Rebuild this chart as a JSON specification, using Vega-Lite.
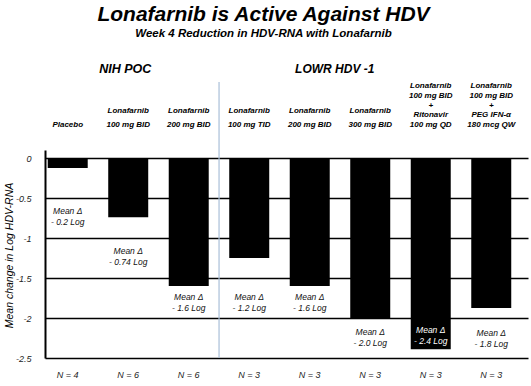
{
  "$schema": "https://vega.github.io/schema/vega-lite/v6.json",
  "width": 483,
  "height": 208,
  "autosize": {"type": "none"},
  "padding": {"left": 45, "top": 150, "right": 3, "bottom": 28},
  "config": {"font": "Liberation Sans", "view": {"stroke": null}},
  "title": {
    "text": "Lonafarnib is Active Against HDV",
    "subtitle": "Week 4 Reduction in HDV-RNA with Lonafarnib",
    "anchor": "middle",
    "frame": "group",
    "dx": -23,
    "offset": 24,
    "fontSize": 21,
    "fontWeight": "bold",
    "fontStyle": "italic",
    "color": "black",
    "subtitleFontSize": 11.5,
    "subtitleFontWeight": "bold",
    "subtitleFontStyle": "italic",
    "subtitleColor": "black",
    "subtitlePadding": 3
  },
  "datasets": {
    "arms": [
      {"arm": "NIH POC|Placebo", "label": "Placebo", "lines": 1, "value": -0.125, "note": "Mean Δ\n- 0.2 Log", "note_at": -0.61, "sample": "N = 4"},
      {"arm": "NIH POC|Lonafarnib|100 mg BID", "label": "Lonafarnib\n100 mg BID", "lines": 2, "value": -0.74, "note": "Mean Δ\n- 0.74 Log", "note_at": -1.11, "sample": "N = 6"},
      {"arm": "NIH POC|Lonafarnib|200 mg BID", "label": "Lonafarnib\n200 mg BID", "lines": 2, "value": -1.6, "note": "Mean Δ\n- 1.6 Log", "note_at": -1.69, "sample": "N = 6"},
      {"arm": "LOWR HDV-1|Lonafarnib|100 mg TID", "label": "Lonafarnib\n100 mg TID", "lines": 2, "value": -1.25, "note": "Mean Δ\n- 1.2 Log", "note_at": -1.69, "sample": "N = 3"},
      {"arm": "LOWR HDV-1|Lonafarnib|200 mg BID", "label": "Lonafarnib\n200 mg BID", "lines": 2, "value": -1.6, "note": "Mean Δ\n- 1.6 Log", "note_at": -1.69, "sample": "N = 3"},
      {"arm": "LOWR HDV-1|Lonafarnib|300 mg BID", "label": "Lonafarnib\n300 mg BID", "lines": 2, "value": -2.01, "note": "Mean Δ\n- 2.0 Log", "note_at": -2.13, "sample": "N = 3"},
      {"arm": "LOWR HDV-1|Lonafarnib|100 mg BID|+|Ritonavir|100 mg QD", "label": "Lonafarnib\n100 mg BID\n+\nRitonavir\n100 mg QD", "lines": 5, "value": -2.39, "note": "Mean Δ\n- 2.4 Log", "note_at": -2.1, "sample": "N = 3"},
      {"arm": "LOWR HDV-1|Lonafarnib|100 mg BID|+|PEG IFN-α|180 mcg QW", "label": "Lonafarnib\n100 mg BID\n+\nPEG IFN-α\n180 mcg QW", "lines": 5, "value": -1.875, "note": "Mean Δ\n- 1.8 Log", "note_at": -2.14, "sample": "N = 3"}
    ],
    "studies": [
      {"study": "NIH POC", "label_arm": "NIH POC|Lonafarnib|100 mg BID", "first_arm": "NIH POC|Placebo"},
      {"study": "LOWR HDV -1", "label_arm": "LOWR HDV-1|Lonafarnib|200 mg BID", "first_arm": "LOWR HDV-1|Lonafarnib|100 mg TID"}
    ]
  },
  "layer": [
    {
      "data": {"name": "arms"},
      "mark": {"type": "bar", "color": "black"},
      "encoding": {
        "x": {
          "field": "arm",
          "type": "nominal",
          "scale": {
            "domain": [
              "NIH POC|Placebo",
              "NIH POC|Lonafarnib|100 mg BID",
              "NIH POC|Lonafarnib|200 mg BID",
              "LOWR HDV-1|Lonafarnib|100 mg TID",
              "LOWR HDV-1|Lonafarnib|200 mg BID",
              "LOWR HDV-1|Lonafarnib|300 mg BID",
              "LOWR HDV-1|Lonafarnib|100 mg BID|+|Ritonavir|100 mg QD",
              "LOWR HDV-1|Lonafarnib|100 mg BID|+|PEG IFN-α|180 mcg QW"
            ],
            "paddingInner": 0.339,
            "paddingOuter": 0.161,
            "align": 0.14
          },
          "axis": null
        },
        "y": {
          "field": "value",
          "type": "quantitative",
          "scale": {"domain": [-2.5, 0.1], "nice": false, "zero": false},
          "axis": {
            "title": "Mean change in Log HDV-RNA",
            "titleFontSize": 10.5,
            "titleFontWeight": "normal",
            "titleFontStyle": "italic",
            "titleColor": "black",
            "titleX": -36,
            "titleY": 105,
            "titleAngle": 270,
            "titleAlign": "center",
            "titleBaseline": "middle",
            "values": [0, -0.5, -1, -1.5, -2, -2.5],
            "labelExpr": "toString(datum.value)",
            "labelFontSize": 9,
            "labelFontStyle": "italic",
            "labelColor": "#222",
            "labelPadding": 14,
            "ticks": false,
            "domainColor": "black",
            "domainWidth": 2,
            "grid": true,
            "gridColor": "black",
            "gridWidth": 1.6,
            "gridOpacity": 1
          }
        }
      }
    },
    {
      "data": {"name": "arms"},
      "transform": [{"filter": "datum.lines == 1"}],
      "mark": {"type": "text", "fontSize": 8, "fontWeight": "bold", "fontStyle": "italic", "baseline": "alphabetic", "align": "center", "color": "black", "lineBreak": "\n"},
      "encoding": {
        "x": {"field": "arm", "type": "nominal"},
        "y": {"datum": 0.3875},
        "text": {"field": "label"}
      }
    },
    {
      "data": {"name": "arms"},
      "transform": [{"filter": "datum.lines == 2"}],
      "mark": {"type": "text", "fontSize": 8, "fontWeight": "bold", "fontStyle": "italic", "baseline": "alphabetic", "align": "center", "color": "black", "lineBreak": "\n", "lineHeight": 14},
      "encoding": {
        "x": {"field": "arm", "type": "nominal"},
        "y": {"datum": 0.5625},
        "text": {"field": "label"}
      }
    },
    {
      "data": {"name": "arms"},
      "transform": [{"filter": "datum.lines == 5"}],
      "mark": {"type": "text", "fontSize": 8, "fontWeight": "bold", "fontStyle": "italic", "baseline": "alphabetic", "align": "center", "color": "black", "lineBreak": "\n", "lineHeight": 9.75},
      "encoding": {
        "x": {"field": "arm", "type": "nominal"},
        "y": {"datum": 0.875},
        "text": {"field": "label"}
      }
    },
    {
      "data": {"name": "studies"},
      "transform": [{"filter": "datum.study === 'LOWR HDV -1'"}],
      "mark": {"type": "rule", "color": "#a9bfd8", "strokeWidth": 1.2},
      "encoding": {
        "x": {"field": "first_arm", "type": "nominal", "bandPosition": -0.255},
        "y": {"datum": 0.95},
        "y2": {"datum": -2.5}
      }
    },
    {
      "data": {"name": "arms"},
      "mark": {"type": "text", "fontSize": 8.5, "fontStyle": "italic", "baseline": "top", "align": "center", "lineBreak": "\n", "lineHeight": 11},
      "encoding": {
        "x": {"field": "arm", "type": "nominal"},
        "y": {"field": "note_at", "type": "quantitative"},
        "text": {"field": "note"},
        "color": {
          "condition": {"test": "datum.note_at > datum.value", "value": "white"},
          "value": "#111"
        }
      }
    },
    {
      "data": {"name": "arms"},
      "mark": {"type": "text", "fontSize": 9, "fontStyle": "italic", "baseline": "alphabetic", "align": "center", "color": "#222"},
      "encoding": {
        "x": {"field": "arm", "type": "nominal"},
        "y": {"datum": -2.75},
        "text": {"field": "sample"}
      }
    },
    {
      "data": {"name": "studies"},
      "transform": [{"filter": "datum.study === 'NIH POC'"}],
      "mark": {"type": "text", "fontSize": 12.5, "fontWeight": "bold", "fontStyle": "italic", "baseline": "alphabetic", "align": "center", "color": "black", "dx": -3},
      "encoding": {
        "x": {"field": "label_arm", "type": "nominal"},
        "y": {"datum": 1.06},
        "text": {"field": "study"}
      }
    },
    {
      "data": {"name": "studies"},
      "transform": [{"filter": "datum.study === 'LOWR HDV -1'"}],
      "mark": {"type": "text", "fontSize": 12, "fontWeight": "bold", "fontStyle": "italic", "baseline": "alphabetic", "align": "center", "color": "black", "dx": 25},
      "encoding": {
        "x": {"field": "label_arm", "type": "nominal"},
        "y": {"datum": 1.06},
        "text": {"field": "study"}
      }
    }
  ]
}
